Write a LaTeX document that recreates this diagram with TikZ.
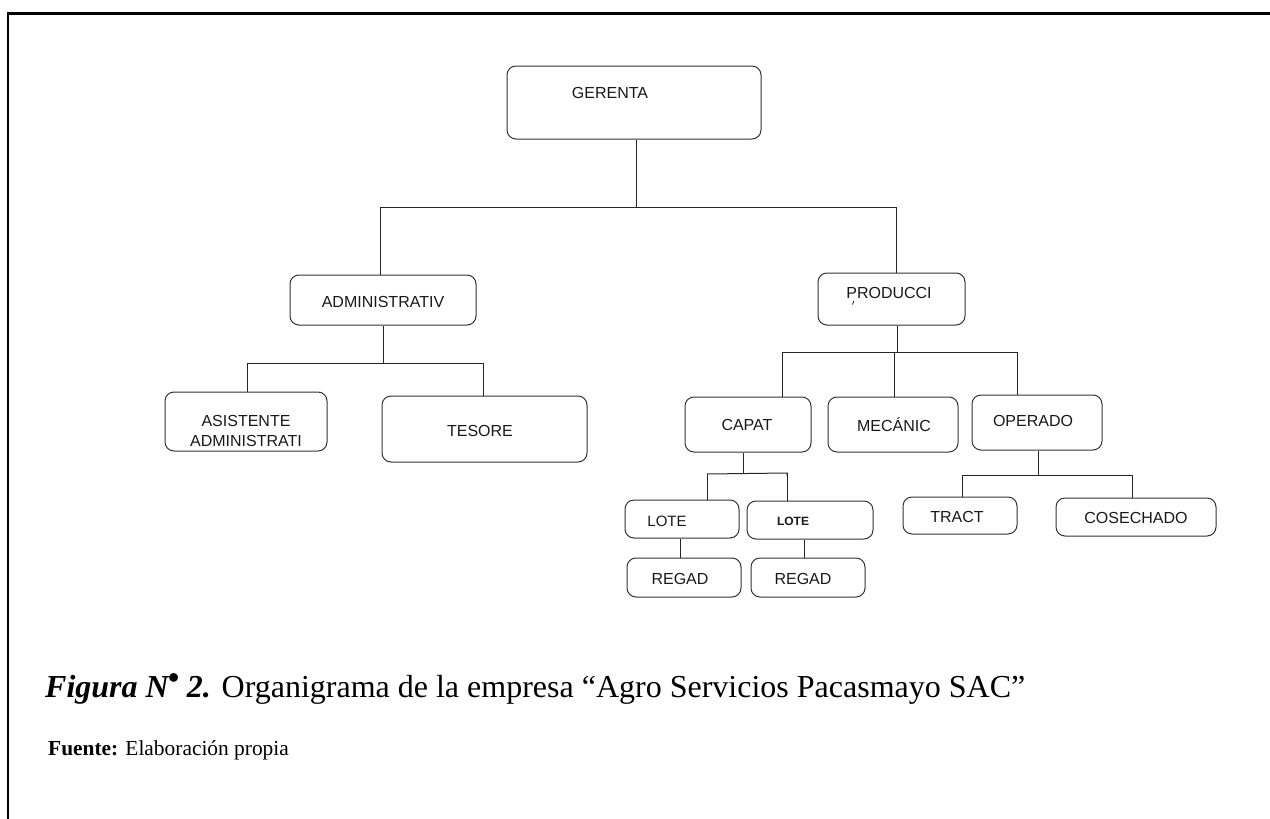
\documentclass[tikz,border=0pt]{standalone}
\usepackage{fontspec}
\setmainfont{Liberation Serif}
\newfontfamily\arialf{Liberation Sans}
\begin{document}
\begin{tikzpicture}[x=1pt,y=-1pt,
  box/.style={draw=black!80, line width=1pt, rounded corners=9pt, inner sep=0pt},
  lbl/.style={font=\arialf\fontsize{16}{20}\selectfont, inner sep=0pt, align=center, text=black!90},
  conn/.style={draw=black!85, line width=1pt}]
\useasboundingbox (0,0) rectangle (1270,819);
% frame
\draw[line width=3pt] (7,13.5) -- (1270,13.5);
\draw[line width=2.5pt] (8,12) -- (8,819);
% boxes
\node[box, minimum width=254, minimum height=73] (ger) at (634,102.5) {};
\node[box, minimum width=186, minimum height=50] (adm) at (383,300) {};
\node[box, minimum width=162, minimum height=59] (asis) at (246,421.5) {};
\node[box, minimum width=205, minimum height=66] (tes) at (484.5,429) {};
\node[box, minimum width=147, minimum height=52] (prod) at (891.5,299) {};
\node[box, minimum width=126, minimum height=55] (capat) at (748,424.5) {};
\node[box, minimum width=130, minimum height=55] (mec) at (893,424.5) {};
\node[box, minimum width=130, minimum height=55] (oper) at (1037,422.5) {};
\node[box, minimum width=114, minimum height=38] (lote1) at (682,519) {};
\node[box, minimum width=126, minimum height=38] (lote2) at (810,520) {};
\node[box, minimum width=114, minimum height=39] (reg1) at (684,577.5) {};
\node[box, minimum width=114, minimum height=39] (reg2) at (808,577.5) {};
\node[box, minimum width=114, minimum height=37] (tract) at (960,515.5) {};
\node[box, minimum width=160, minimum height=38] (cose) at (1136,517) {};
% labels
\node[lbl] (tger) at (610,93) {GERENTA};
\node[lbl] (tadm) at (383,302) {ADMINISTRATIV};
\node[lbl] (tasis) at (246,431) {ASISTENTE\\ADMINISTRATI};
\node[lbl] (ttes) at (480,431) {TESORE};
\node[lbl] (tprod) at (889,293) {PRODUCCI};
\node[lbl] (tcapat) at (747,425) {CAPAT};
\node[lbl] (tmec) at (894,425) {MECÁNIC};
\node[lbl] (toper) at (1033,421) {OPERADO};
\node[lbl, font=\arialf\fontsize{15}{18}\selectfont] (tl1) at (667,521) {LOTE};
\node[lbl, font=\arialf\bfseries\fontsize{12}{14}\selectfont] (tl2) at (793,521) {LOTE};
\node[lbl] (tr1) at (680,579) {REGAD};
\node[lbl] (tr2) at (803,579) {REGAD};
\node[lbl] (ttr) at (957,517) {TRACT};
\node[lbl] (tco) at (1136,518) {COSECHADO};
\draw[line width=0.7pt] (852.5,304.5) -- (853.8,301);
% junction coordinates
\coordinate (b1) at (636,207);
\coordinate (b1l) at (380,207);
\coordinate (b1r) at (896,207);
\coordinate (b2) at (383,363);
\coordinate (b2l) at (247,363);
\coordinate (b2r) at (483,363);
\coordinate (b3) at (897,352);
\coordinate (b3l) at (782,352);
\coordinate (b3m) at (894,352);
\coordinate (b3r) at (1017,352);
\coordinate (b4) at (743,473.5);
\coordinate (b4l) at (707,474);
\coordinate (b4r) at (787,473);
\coordinate (b5) at (1038,475);
\coordinate (b5l) at (962,475);
\coordinate (b5r) at (1132,475);
% connectors
\draw[conn] (ger.south -| b1) -- (b1);
\draw[conn] (b1l) -- (b1r);
\draw[conn] (b1l) -- (b1l |- adm.north);
\draw[conn] (b1r) -- (b1r |- prod.north);
\draw[conn] (adm.south -| b2) -- (b2);
\draw[conn] ([yshift=-5]b2l) -- (b2l) -- (b2r) -- ([yshift=-4]b2r);
\draw[conn] (b2l) -- (b2l |- asis.north);
\draw[conn] (b2r) -- (b2r |- tes.north);
\draw[conn] (prod.south -| b3) -- (b3);
\draw[conn] (b3l) -- (b3r);
\draw[conn] (b3l) -- (b3l |- capat.north);
\draw[conn] (b3m) -- (b3m |- mec.north);
\draw[conn] (b3r) -- (b3r |- oper.north);
\draw[conn] (capat.south -| b4) -- (b4);
\draw[conn] (b4l) -- (b4r) -- ([yshift=-3]b4r);
\draw[conn] (b4l) -- (b4l |- lote1.north);
\draw[conn] (b4r) -- (b4r |- lote2.north);
\draw[conn] (lote1.south -| reg1.center) ++(-4,0) -- ([xshift=-4]reg1.north);
\draw[conn] (lote2.south -| reg2.center) ++(-4,0) -- ([xshift=-4]reg2.north);
\draw[conn] (oper.south -| b5) -- (b5);
\draw[conn] (b5l) -- (b5r) -- ([yshift=-3]b5r);
\draw[conn] (b5l) -- (b5l |- tract.north);
\draw[conn] (b5r) -- (b5r |- cose.north);
% caption
\node[anchor=base west, inner sep=0pt, font=\fontsize{32}{38}\selectfont] (cap) at (45,697)
  {\textbf{\textit{Figura N\kern-1pt\raisebox{0.28em}{•} 2.}} Organigrama de la empresa “Agro Servicios Pacasmayo SAC”};
\node[anchor=base west, inner sep=0pt, font=\fontsize{21.4}{26}\selectfont] (src) at (48,755)
  {\textbf{Fuente:} Elaboración propia};
\end{tikzpicture}
\end{document}
